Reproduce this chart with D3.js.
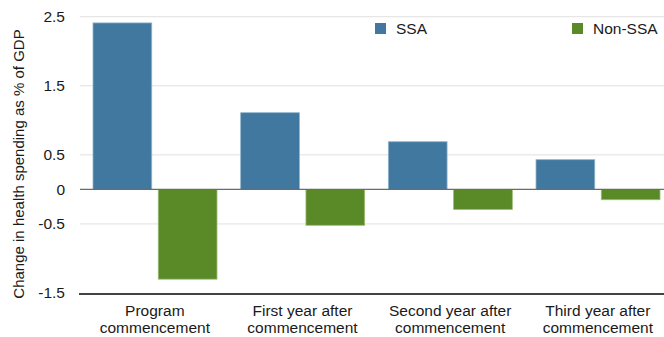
<!DOCTYPE html>
<html>
<head>
<meta charset="utf-8">
<script src="https://cdn.jsdelivr.net/npm/d3@7"></script>
<style>
  html, body { margin: 0; padding: 0; background: #fff; }
  svg { display: block; font-family: "Liberation Sans", Arial, Helvetica, sans-serif; }
</style>
</head>
<body>
<svg id="chart" width="664" height="337"></svg>
<script>
// Change in health spending (% of GDP) around program commencement
const categories = [
  ["Program", "commencement"],
  ["First year after", "commencement"],
  ["Second year after", "commencement"],
  ["Third year after", "commencement"]
];
const seriesNames = ["SSA", "Non-SSA"];
const ssaValues = [2.41, 1.11, 0.69, 0.43];
const nonSsaValues = [-1.30, -0.52, -0.29, -0.15];
const tickValues = [2.5, 1.5, 0.5, 0, -0.5, -1.5];
const colors = { "SSA": "#41789f", "Non-SSA": "#5a8a27" };

const rows = categories.map((c, i) => ({
  key: i,
  label: c,
  values: [
    { series: "SSA", value: ssaValues[i] },
    { series: "Non-SSA", value: nonSsaValues[i] }
  ]
}));

const svg = d3.select("#chart");
const left = 80, right = 672;
const textColor = "#1a1a1a";

const x0 = d3.scaleBand().domain(rows.map(d => d.key)).range([81, 81 + 4 * 147.67]).padding(0);
const x1 = d3.scaleBand().domain(seriesNames).range([12, 136]).paddingInner(0.1).paddingOuter(0);
const y = d3.scaleLinear().domain([-1.5, 2.5]).range([293, 16.7]);

// light gridlines
svg.append("g")
  .selectAll("line")
  .data(tickValues.filter(v => v !== 0 && v !== -1.5))
  .join("line")
  .attr("x1", left).attr("x2", right)
  .attr("y1", d => y(d)).attr("y2", d => y(d))
  .attr("stroke", "#e0e0e0").attr("stroke-width", 1);

// y tick labels
const yAxis = d3.axisLeft(y).tickValues(tickValues).tickSize(0).tickPadding(0)
  .tickFormat(d => d3.format("")(d).replace("\u2212", "-"));
const ya = svg.append("g").attr("transform", "translate(65,0)").call(yAxis);
ya.select(".domain").remove();
ya.selectAll("text")
  .attr("font-size", 15.5)
  .attr("fill", textColor)
  .attr("font-family", "Liberation Sans, Arial, sans-serif");

// bars
const groups = svg.append("g")
  .selectAll("g")
  .data(rows)
  .join("g")
  .attr("transform", d => `translate(${x0(d.key)},0)`);

groups.selectAll("rect")
  .data(d => d.values)
  .join("rect")
  .attr("x", d => x1(d.series))
  .attr("width", x1.bandwidth())
  .attr("y", d => y(Math.max(0, d.value)))
  .attr("height", d => Math.abs(y(d.value) - y(0)))
  .attr("fill", d => colors[d.series])
  .attr("stroke", d => d.series === "SSA" ? "#8fb3cc" : "#9cbf76")
  .attr("stroke-width", 0.8);

// zero line
svg.append("line")
  .attr("x1", left).attr("x2", right)
  .attr("y1", y(0)).attr("y2", y(0))
  .attr("stroke", "#6b6b6b").attr("stroke-width", 1.3);

// bottom axis line
svg.append("line")
  .attr("x1", left - 1).attr("x2", right)
  .attr("y1", y(-1.5) + 1).attr("y2", y(-1.5) + 1)
  .attr("stroke", "#444").attr("stroke-width", 2);

// category labels, two lines each
const xl = svg.append("g");
rows.forEach(r => {
  const cx = x0(r.key) + x0.bandwidth() / 2;
  r.label.forEach((line, i) => {
    xl.append("text")
      .attr("x", cx)
      .attr("y", 316 + i * 17.2)
      .attr("text-anchor", "middle")
      .attr("font-size", 15.5)
      .attr("fill", textColor)
      .text(line);
  });
});

// y axis title
svg.append("text")
  .attr("transform", `translate(24,164) rotate(-90)`)
  .attr("text-anchor", "middle")
  .attr("font-size", 15)
  .attr("fill", textColor)
  .text("Change in health spending as % of GDP");

// legend
const legendPos = [{ name: "SSA", x: 375 }, { name: "Non-SSA", x: 572 }];
const lg = svg.append("g")
  .selectAll("g")
  .data(legendPos)
  .join("g")
  .attr("transform", d => `translate(${d.x},23)`);
lg.append("rect")
  .attr("width", 11).attr("height", 11)
  .attr("fill", d => colors[d.name]);
lg.append("text")
  .attr("x", 21).attr("y", 11)
  .attr("font-size", 15.5)
  .attr("fill", textColor)
  .text(d => d.name);
</script>
</body>
</html>
